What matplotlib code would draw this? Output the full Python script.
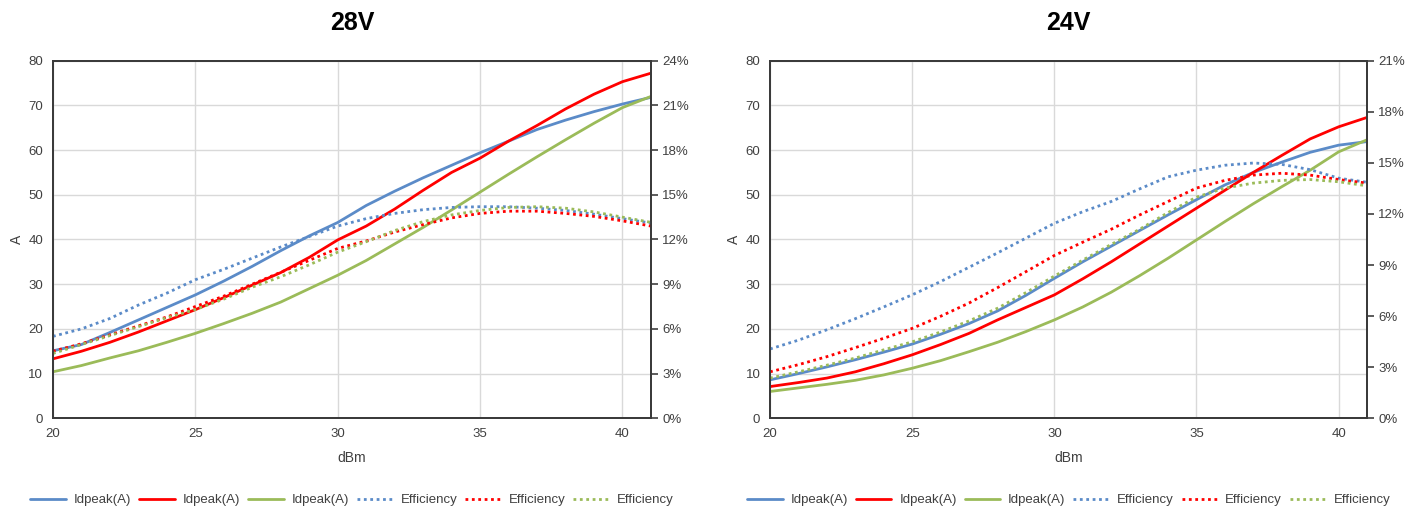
import matplotlib
matplotlib.use("Agg")
import matplotlib.pyplot as plt
from matplotlib.ticker import PercentFormatter, MultipleLocator

plt.rcParams['font.family'] = ['Liberation Sans', 'DejaVu Sans']

# Input power sweep (dBm)
dbm = list(range(20, 42))

# 28V supply: peak drain current (A) for the three devices
idpeak_28_blue = [15.1, 16.5, 19.2, 22.0, 24.8, 27.6, 30.7, 34.0, 37.5, 40.8, 43.8,
                  47.6, 50.8, 53.8, 56.6, 59.4, 62.0, 64.6, 66.7, 68.6, 70.3, 71.8]
idpeak_28_red = [13.3, 15.0, 17.0, 19.3, 21.8, 24.3, 27.0, 29.8, 32.6, 36.0, 39.9,
                 43.0, 46.8, 51.0, 55.0, 58.2, 62.0, 65.5, 69.2, 72.5, 75.3, 77.2]
idpeak_28_green = [10.4, 11.8, 13.5, 15.1, 17.0, 19.0, 21.2, 23.5, 26.0, 29.0, 32.0,
                   35.3, 39.0, 42.7, 46.6, 50.6, 54.6, 58.5, 62.3, 66.0, 69.5, 72.0]
# 28V supply: efficiency (%)
eff_28_blue = [5.5, 6.0, 6.7, 7.6, 8.4, 9.3, 10.0, 10.75, 11.5, 12.2, 12.9,
               13.4, 13.75, 14.0, 14.15, 14.2, 14.2, 14.1, 13.95, 13.7, 13.4, 13.1]
eff_28_red = [4.5, 5.0, 5.6, 6.2, 6.8, 7.5, 8.2, 9.0, 9.8, 10.6, 11.4,
              11.9, 12.5, 13.0, 13.45, 13.75, 13.9, 13.9, 13.75, 13.55, 13.25, 12.9]
eff_28_green = [4.35, 4.95, 5.55, 6.15, 6.75, 7.3, 8.0, 8.8, 9.5, 10.3, 11.15,
                11.85, 12.6, 13.2, 13.65, 13.95, 14.15, 14.2, 14.1, 13.85, 13.5, 13.15]

# 24V supply: peak drain current (A)
idpeak_24_blue = [8.6, 10.0, 11.5, 13.1, 14.8, 16.6, 18.8, 21.2, 24.0, 27.5, 31.3,
                  35.0, 38.5, 42.0, 45.5, 48.9, 52.2, 55.0, 57.3, 59.5, 61.1, 61.9]
idpeak_24_red = [7.1, 8.0, 9.0, 10.4, 12.2, 14.2, 16.5, 19.0, 22.0, 24.8, 27.6,
                 31.2, 35.0, 39.0, 43.0, 47.0, 51.0, 55.0, 58.8, 62.5, 65.2, 67.3]
idpeak_24_green = [6.0, 6.8, 7.6, 8.5, 9.7, 11.2, 12.9, 14.9, 17.0, 19.4, 22.0,
                   24.9, 28.2, 31.9, 35.8, 39.9, 44.0, 48.0, 51.8, 55.5, 59.6, 62.3]
# 24V supply: efficiency (%)
eff_24_blue = [4.07, 4.59, 5.20, 5.85, 6.54, 7.25, 8.03, 8.87, 9.71, 10.58, 11.45,
               12.13, 12.73, 13.47, 14.18, 14.57, 14.86, 14.99, 14.91, 14.60, 14.10, 13.86]
eff_24_red = [2.73, 3.15, 3.62, 4.15, 4.70, 5.28, 5.99, 6.77, 7.67, 8.61, 9.56,
              10.34, 11.10, 11.94, 12.73, 13.52, 13.97, 14.28, 14.39, 14.28, 14.02, 13.81]
eff_24_green = [2.36, 2.73, 3.12, 3.54, 4.02, 4.49, 5.07, 5.72, 6.46, 7.38, 8.35,
                9.29, 10.21, 11.10, 12.08, 12.99, 13.52, 13.81, 13.97, 14.02, 13.89, 13.65]

colors = ['#5B8BC8', '#FF0000', '#9BBB59']
tick_color = '#404040'


def draw_panel(rect, title, idpeaks, effs, eff_max):
    ax = fig.add_axes(rect)
    ax2 = ax.twinx()

    for y, c in zip(idpeaks, colors):
        ax.plot(dbm, y, color=c, lw=2.0, label='Idpeak(A)', solid_capstyle='round')
    for y, c in zip(effs, colors):
        ax2.plot(dbm, y, color=c, lw=2.0, ls=(0, (1, 1.3)), label='Efficiency')

    ax.set_xlim(20, 41)
    ax.set_ylim(0, 80)
    ax.xaxis.set_major_locator(MultipleLocator(5))
    ax.yaxis.set_major_locator(MultipleLocator(10))
    ax.grid(True, color='#D9D9D9', lw=1.0)
    ax.set_axisbelow(True)
    ax.tick_params(axis='both', length=0, labelsize=9.5, colors=tick_color, pad=7)
    ax.set_xlabel('dBm', fontsize=10, color=tick_color, labelpad=8)
    ax.set_ylabel('A', fontsize=10, color=tick_color, labelpad=3)

    ax2.set_ylim(0, eff_max)
    ax2.yaxis.set_major_locator(MultipleLocator(3))
    ax2.yaxis.set_major_formatter(PercentFormatter(xmax=100, decimals=0))
    ax2.tick_params(axis='y', length=5, width=1.2, labelsize=9.5, colors=tick_color,
                    direction='out', pad=3)

    for a in (ax, ax2):
        for s in a.spines.values():
            s.set_color('#3A3A3A')
            s.set_linewidth(1.3)

    ax.set_title(title, fontsize=18, fontweight='bold', pad=22)

    h1, l1 = ax.get_legend_handles_labels()
    h2, l2 = ax2.get_legend_handles_labels()
    cx = rect[0] + rect[2] / 2
    fig.legend(h1 + h2, l1 + l2, loc='center', bbox_to_anchor=(cx, 0.017), ncol=6,
               frameon=False, fontsize=9.5, handlelength=2.7, handletextpad=0.6,
               columnspacing=0.6, labelcolor=tick_color)
    return ax


fig = plt.figure(figsize=(14.2, 5.09), dpi=100)

draw_panel([0.0373, 0.1782, 0.4211, 0.7026], '28V',
           [idpeak_28_blue, idpeak_28_red, idpeak_28_green],
           [eff_28_blue, eff_28_red, eff_28_green], 24)
draw_panel([0.5423, 0.1782, 0.4204, 0.7026], '24V',
           [idpeak_24_blue, idpeak_24_red, idpeak_24_green],
           [eff_24_blue, eff_24_red, eff_24_green], 21)

fig.savefig('out.png', dpi=100)
